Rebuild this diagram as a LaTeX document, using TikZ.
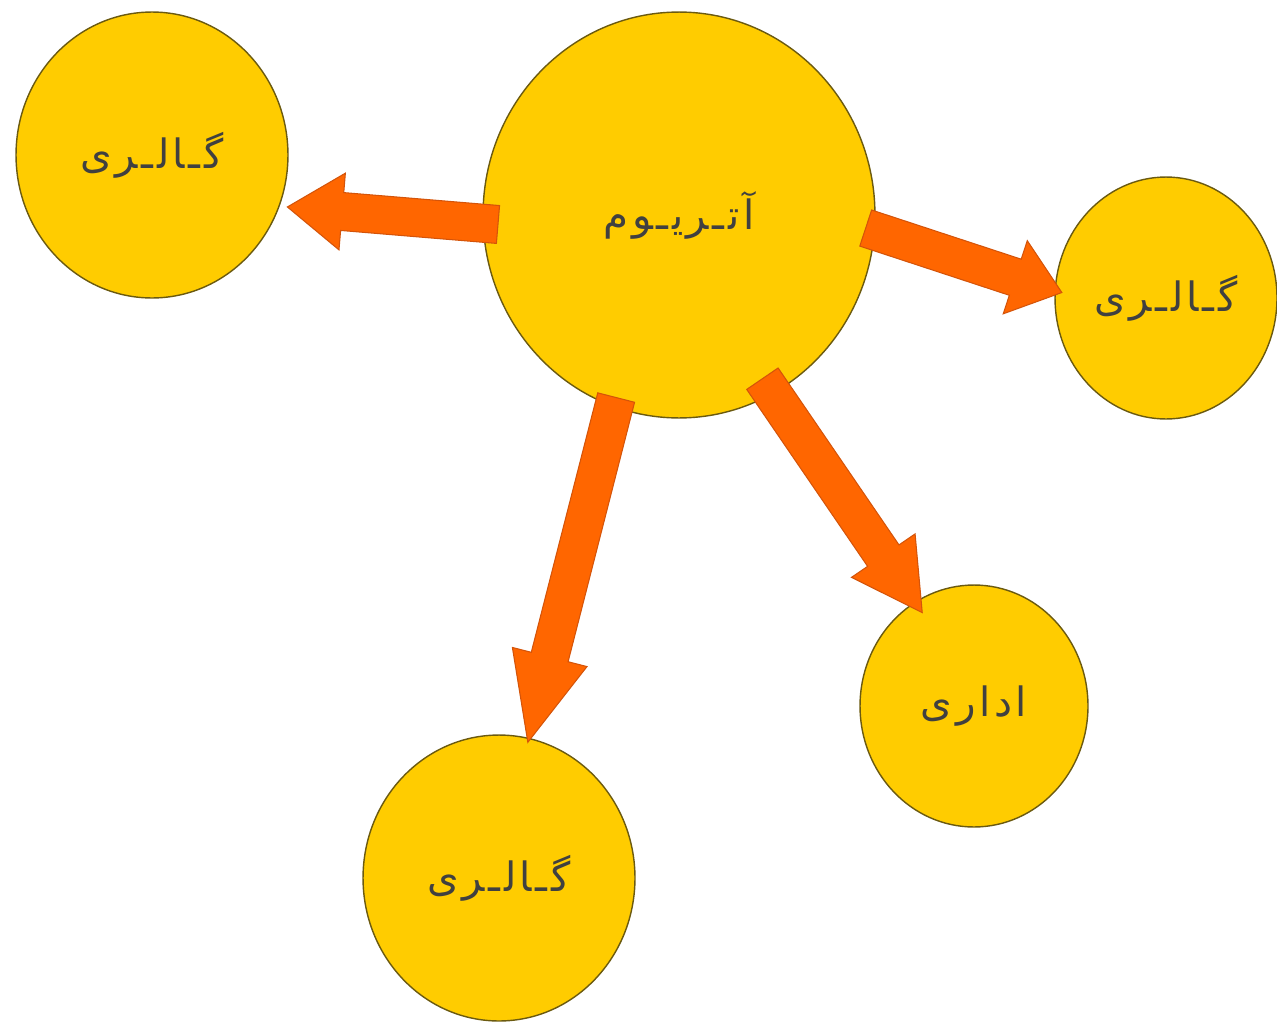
\documentclass[tikz,border=0pt]{standalone}
\usepackage{fontspec}
\newfontfamily\arabicfont[Script=Arabic,LetterSpace=9]{DejaVu Sans}
\TeXXeTstate=1
\usetikzlibrary{shapes.geometric,calc}

\definecolor{roomfill}{HTML}{FFCC00}
\definecolor{roomline}{HTML}{6B5A10}
\definecolor{flowfill}{HTML}{FF6600}
\definecolor{flowline}{HTML}{D4540A}

% block arrow: start, tip, head length
\newcommand{\flowarrow}[3]{%
  \coordinate (fa-s) at (#1);
  \coordinate (fa-t) at (#2);
  \coordinate (fa-h) at ($(fa-t)!#3!(fa-s)$);
  \draw[flow] ($(fa-s)!0.38cm!90:(fa-t)$) -- ($(fa-h)!0.38cm!-90:(fa-s)$)
    -- ($(fa-h)!0.77cm!-90:(fa-s)$) -- (fa-t) -- ($(fa-h)!0.77cm!90:(fa-s)$)
    -- ($(fa-h)!0.38cm!90:(fa-s)$) -- ($(fa-s)!0.38cm!-90:(fa-t)$) -- cycle;
}

\begin{document}
\begin{tikzpicture}[x=0.02cm,y=-0.02cm,
  room/.style={ellipse,draw=roomline,fill=roomfill,line width=0.8pt,inner sep=0pt,outer sep=0pt,
    text=black!75,font=\arabicfont\fontsize{23}{27}\selectfont},
  flow/.style={fill=flowfill,draw=flowline,line width=0.6pt,line join=miter}]

\useasboundingbox (0,0) rectangle (1277,1021);

\node[room,minimum width=7.84cm,minimum height=8.12cm] (atrium) at (679,215) {\beginR آتـریـوم\endR};
\node[room,minimum width=5.44cm,minimum height=5.72cm] (galleryW) at (152,155) {\beginR گـالـری\endR};
\node[room,minimum width=4.44cm,minimum height=4.84cm] (galleryE) at (1166,298) {\beginR گـالـری\endR};
\node[room,minimum width=4.56cm,minimum height=4.84cm] (office) at (974,706) {\beginR اداری\endR};
\node[room,minimum width=5.44cm,minimum height=5.72cm] (galleryS) at (499,878) {\beginR گـالـری\endR};

\flowarrow{$(atrium.center)!0.925!(atrium.183)$}{$(galleryW.center)!1.06!(galleryW.-21)$}{1.1cm}
\flowarrow{$(atrium.center)!0.955!(atrium.-4)$}{$(galleryE.center)!0.94!(galleryE.177)$}{0.98cm}
\flowarrow{$(atrium.center)!0.912!(atrium.-63)$}{$(office.center)!0.896!(office.119)$}{1.38cm}
\flowarrow{$(atrium.center)!0.955!(atrium.-109)$}{$(galleryS.center)!0.973!(galleryS.78)$}{1.76cm}
\end{tikzpicture}
\end{document}
